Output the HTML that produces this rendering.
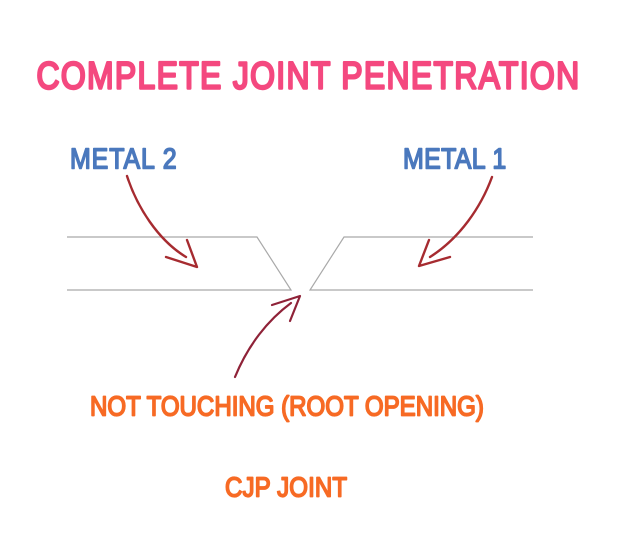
<!DOCTYPE html>
<html>
<head>
<meta charset="utf-8">
<style>
html,body{margin:0;padding:0;background:#fff;width:640px;height:547px;overflow:hidden}
svg{display:block}
text{font-family:"Liberation Sans",sans-serif;font-weight:400;stroke-linejoin:round;paint-order:stroke}
</style>
</head>
<body>
<svg width="640" height="547" viewBox="0 0 640 547" xmlns="http://www.w3.org/2000/svg">
<text transform="translate(36.5 88.5) scale(.84 1)" font-size="38" fill="#f4487f" stroke="#f4487f" stroke-width="2.4" textLength="646" lengthAdjust="spacing">COMPLETE JOINT PENETRATION</text>
<text transform="translate(70 168.5) scale(.86 1)" font-size="29" fill="#4a78bd" stroke="#4a78bd" stroke-width="1.6" textLength="124" lengthAdjust="spacing">METAL 2</text>
<text transform="translate(403 168.5) scale(.86 1)" font-size="29" fill="#4a78bd" stroke="#4a78bd" stroke-width="1.6" textLength="120" lengthAdjust="spacing">METAL 1</text>
<text transform="translate(90 415.5) scale(.86 1)" font-size="28" fill="#f76a24" stroke="#f76a24" stroke-width="1.7" textLength="458" lengthAdjust="spacing">NOT TOUCHING (ROOT OPENING)</text>
<text transform="translate(225 496.5) scale(.86 1)" font-size="28" fill="#f76a24" stroke="#f76a24" stroke-width="1.7" textLength="142" lengthAdjust="spacing">CJP JOINT</text>
<g fill="none" stroke="#a9a9a9" stroke-width="1.2">
<path d="M67 237H257L291 290H67"/>
<path d="M533 237H344L310 290H533"/>
</g>
<g fill="none" stroke="#a62b30" stroke-width="2.4" stroke-linecap="round" stroke-linejoin="round">
<path d="M127 176C137 207 158 240 186 257"/>
<path d="M187 240L197 267L166 257"/>
<path d="M492 177C481 207 460 238 430 257"/>
<path d="M429 240L419 266L450 257"/>
</g>
<g fill="none" stroke="#8f2238" stroke-width="2.2" stroke-linecap="round" stroke-linejoin="round">
<path d="M235 377C248 345 268 320 291 303"/>
<path d="M272 305L300 296L290 321"/>
</g>
</svg>
</body>
</html>
